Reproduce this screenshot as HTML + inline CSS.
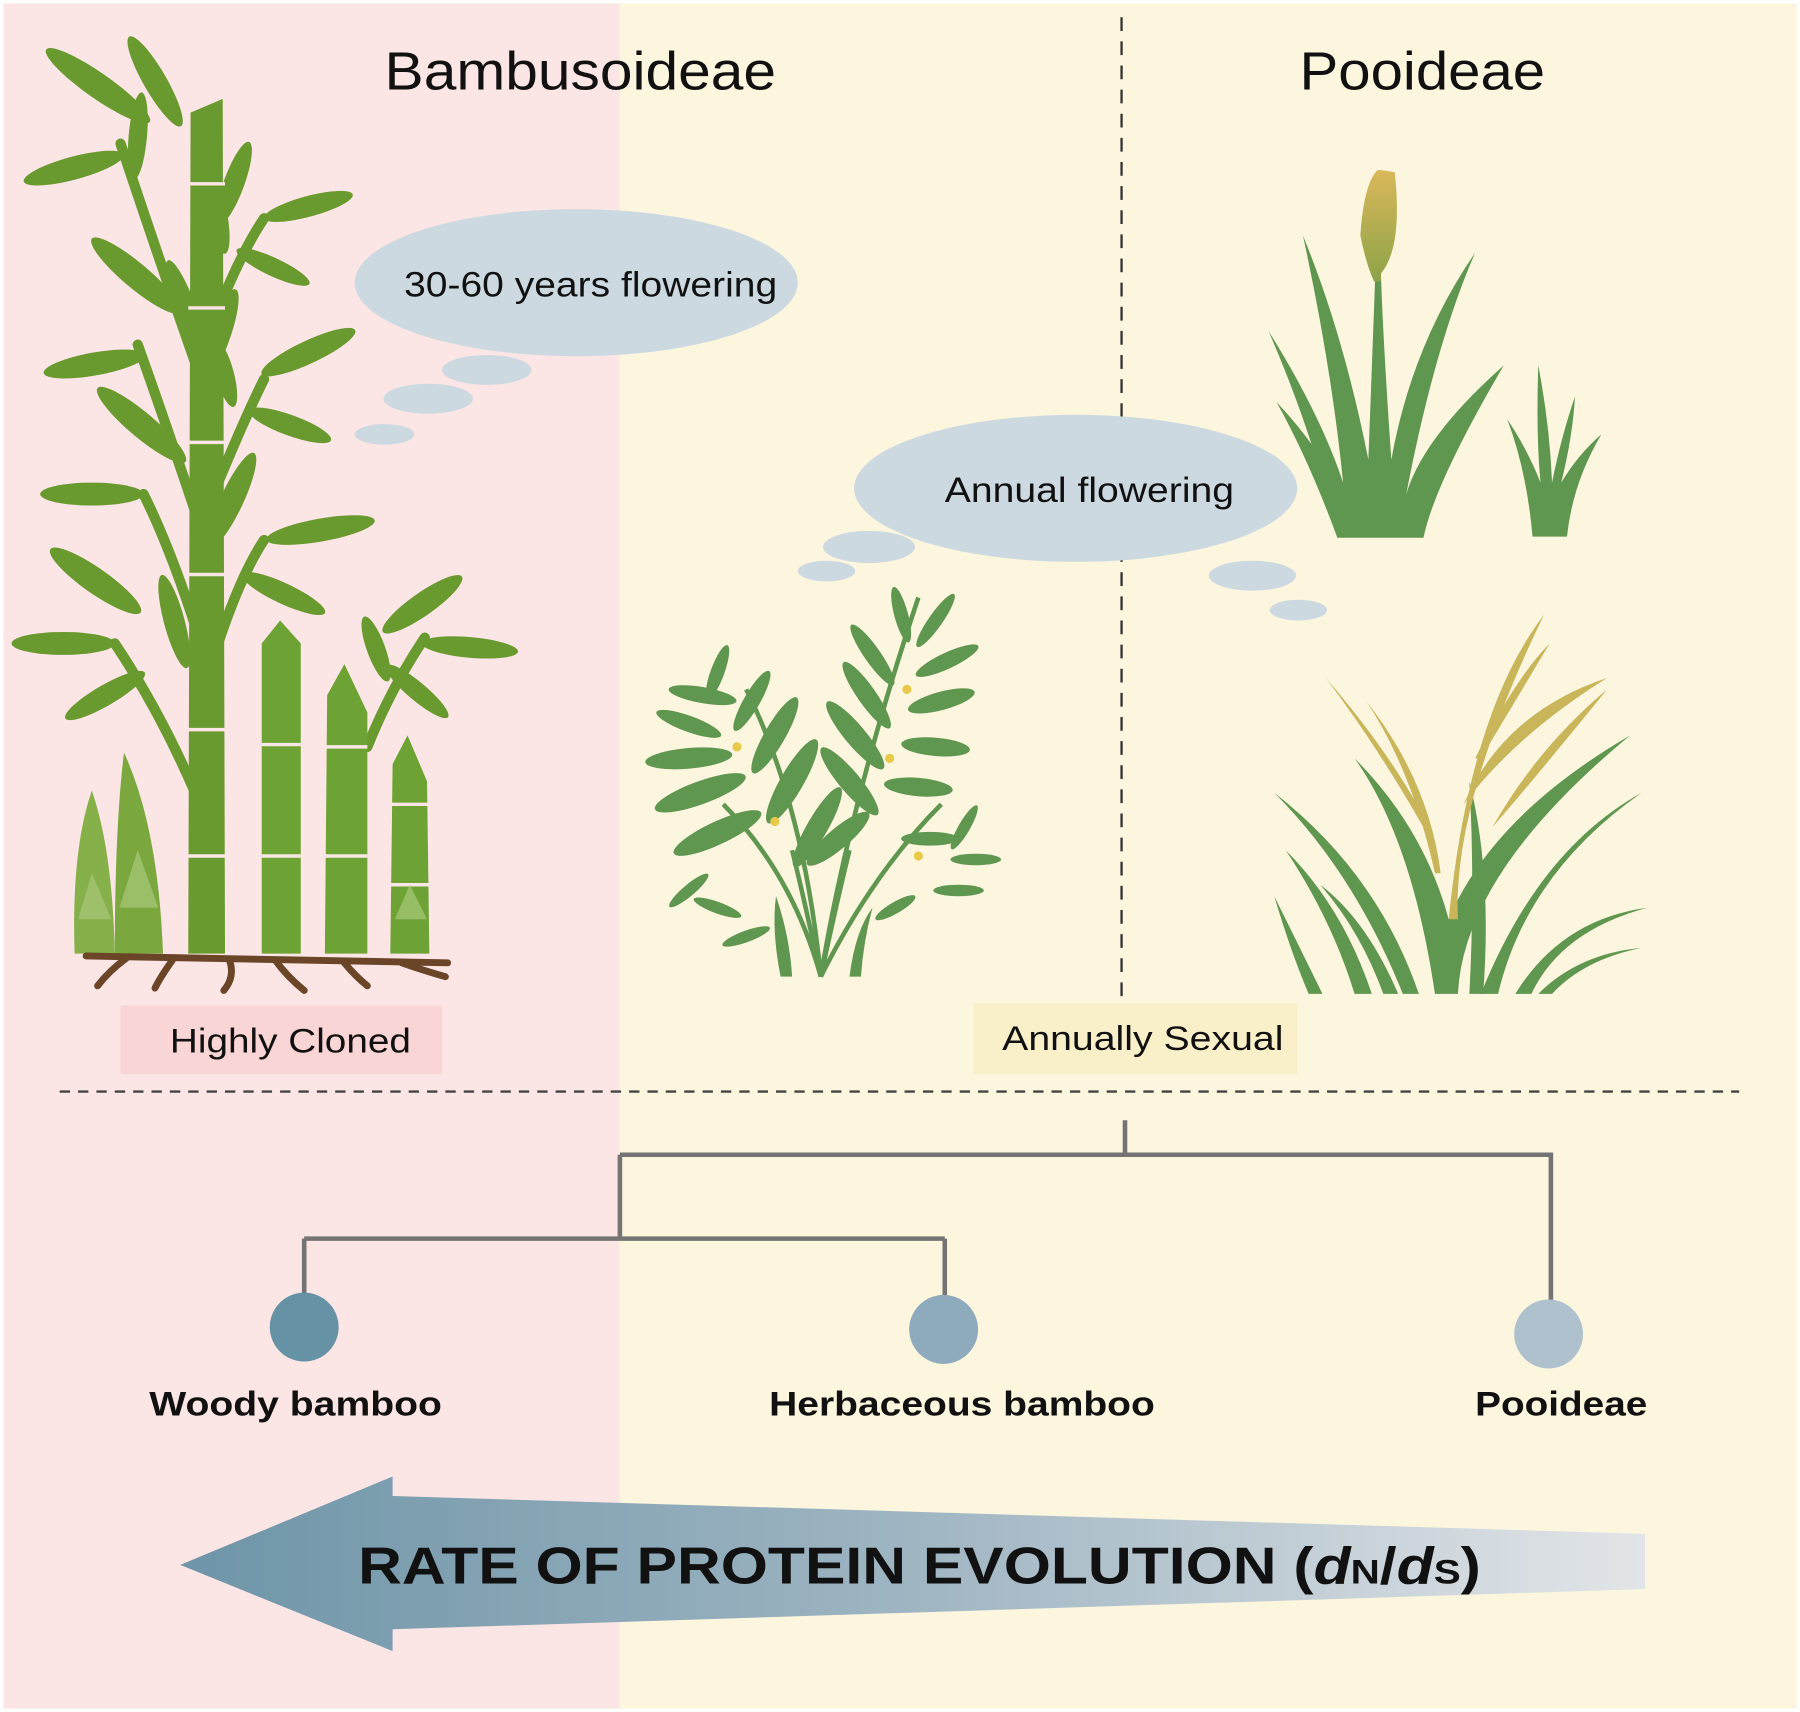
<!DOCTYPE html>
<html><head><meta charset="utf-8"><style>
html,body{margin:0;padding:0;background:#fff;}
svg{display:block;}
text{font-family:"Liberation Sans",Arial,sans-serif;}
</style></head><body>
<svg width="1800" height="1712" viewBox="0 0 1568 1490" preserveAspectRatio="none" xmlns="http://www.w3.org/2000/svg">
<defs>
<linearGradient id="ag" x1="0" x2="1" y1="0" y2="0">
<stop offset="0" stop-color="#6e95a8"/><stop offset="0.5" stop-color="#9fb5c2"/><stop offset="1" stop-color="#e2e5e8"/></linearGradient>
<linearGradient id="gold" x1="0" x2="0" y1="0" y2="1"><stop offset="0" stop-color="#d9b85a"/><stop offset="1" stop-color="#8ea348"/></linearGradient>
</defs>
<rect x="0" y="0" width="1568" height="1490" fill="#fff"/>
<rect x="3" y="3" width="537" height="1484" fill="#fce6e5"/>
<rect x="540" y="3" width="1025" height="1484" fill="#fcf6df"/>
<line x1="977" y1="15" x2="977" y2="872" stroke="#333" stroke-width="2" stroke-dasharray="12,9"/>

<text x="335" y="78" font-size="47" textLength="341" lengthAdjust="spacingAndGlyphs" fill="#111">Bambusoideae</text>
<text x="1132" y="78" font-size="47" textLength="214" lengthAdjust="spacingAndGlyphs" fill="#111">Pooideae</text>

<g fill="#cdd9e0">
<ellipse cx="502" cy="246" rx="193" ry="64"/>
<ellipse cx="424" cy="322" rx="39" ry="13"/>
<ellipse cx="373" cy="347" rx="39" ry="13"/>
<ellipse cx="335" cy="378" rx="26" ry="9"/>
<ellipse cx="937" cy="425" rx="193" ry="64"/>
<ellipse cx="757" cy="476" rx="40" ry="14"/>
<ellipse cx="720" cy="497" rx="25" ry="9"/>
<ellipse cx="1091" cy="501" rx="38" ry="13"/>
<ellipse cx="1131" cy="531" rx="25" ry="9"/>
</g>
<text x="352" y="258" font-size="31" textLength="325" lengthAdjust="spacingAndGlyphs" fill="#111">30-60 years flowering</text>
<text x="823" y="437" font-size="31" textLength="252" lengthAdjust="spacingAndGlyphs" fill="#111">Annual flowering</text>

<g fill="#699a30" stroke="none">
<g stroke="#699a30" stroke-width="9" fill="none" stroke-linecap="round">
<path d="M175 330 Q140 230 105 125"/>
<path d="M190 270 Q210 220 230 190"/>
<path d="M175 460 Q145 370 120 300"/>
<path d="M190 420 Q215 360 230 330"/>
<path d="M175 560 Q150 480 125 430"/>
<path d="M190 560 Q210 500 230 470"/>
<path d="M170 690 Q140 620 100 560"/>
<path d="M320 650 Q340 600 370 555"/>
</g>
<g>
<ellipse cx="60" cy="95" rx="55" ry="11" transform="rotate(35 105 125)" />
<ellipse cx="75" cy="65" rx="45" ry="10" transform="rotate(60 100 120)"/>
<ellipse cx="60" cy="135" rx="45" ry="10" transform="rotate(-15 105 125)"/>
<ellipse cx="140" cy="100" rx="38" ry="8" transform="rotate(-85 140 120)"/>
<ellipse cx="250" cy="155" rx="38" ry="9" transform="rotate(-70 230 190)"/>
<ellipse cx="270" cy="190" rx="40" ry="9" transform="rotate(-15 230 190)"/>
<ellipse cx="255" cy="225" rx="35" ry="8" transform="rotate(25 230 190)"/>
<ellipse cx="215" cy="160" rx="32" ry="8" transform="rotate(-100 215 185)"/>
<ellipse cx="80" cy="255" rx="50" ry="11" transform="rotate(40 120 300)"/>
<ellipse cx="80" cy="310" rx="45" ry="10" transform="rotate(-10 120 300)"/>
<ellipse cx="105" cy="250" rx="45" ry="9" transform="rotate(70 120 300)"/>
<ellipse cx="250" cy="280" rx="45" ry="10" transform="rotate(-70 230 330)"/>
<ellipse cx="275" cy="325" rx="45" ry="10" transform="rotate(-25 230 330)"/>
<ellipse cx="265" cy="360" rx="38" ry="9" transform="rotate(20 230 330)"/>
<ellipse cx="215" cy="300" rx="30" ry="8" transform="rotate(-105 215 320)"/>
<ellipse cx="85" cy="385" rx="50" ry="11" transform="rotate(40 125 430)"/>
<ellipse cx="80" cy="430" rx="45" ry="10" transform="rotate(0 125 430)"/>
<ellipse cx="125" cy="375" rx="45" ry="9" transform="rotate(80 125 430)"/>
<ellipse cx="250" cy="430" rx="45" ry="10" transform="rotate(-65 230 470)"/>
<ellipse cx="280" cy="470" rx="48" ry="10" transform="rotate(-10 230 470)"/>
<ellipse cx="265" cy="505" rx="40" ry="9" transform="rotate(25 230 470)"/>
<ellipse cx="55" cy="525" rx="48" ry="11" transform="rotate(35 100 560)"/>
<ellipse cx="55" cy="560" rx="45" ry="10" transform="rotate(0 100 560)"/>
<ellipse cx="95" cy="505" rx="42" ry="9" transform="rotate(75 100 560)"/>
<ellipse cx="70" cy="595" rx="40" ry="9" transform="rotate(-30 100 560)"/>
<ellipse cx="385" cy="530" rx="42" ry="10" transform="rotate(-35 370 555)"/>
<ellipse cx="335" cy="540" rx="30" ry="8" transform="rotate(-110 340 555)"/>
<ellipse cx="410" cy="560" rx="42" ry="9" transform="rotate(5 370 555)"/>
<ellipse cx="395" cy="595" rx="35" ry="8" transform="rotate(40 370 555)"/>
</g>
<path d="M166 98 L194 86 L196 830 L164 830 Z"/>
<path d="M228 560 L244 540 L262 560 L262 830 L228 830 Z" fill="#6da335"/>
<path d="M285 605 L300 578 L320 620 L320 830 L283 830 Z" fill="#6da335"/>
<path d="M342 665 L355 640 L372 680 L374 830 L340 830 Z" fill="#6da335"/>
<path d="M65 830 Q62 740 80 688 Q98 740 100 830 Z" fill="#85b04a"/>
<path d="M100 830 Q100 720 108 655 Q138 720 142 830 Z" fill="#7aa83e"/>
</g>
<g stroke="#fce6e5" stroke-width="3">
<line x1="164" y1="160" x2="196" y2="160"/><line x1="164" y1="268" x2="196" y2="268"/>
<line x1="164" y1="385" x2="196" y2="385"/><line x1="164" y1="500" x2="196" y2="500"/>
<line x1="164" y1="635" x2="196" y2="635"/><line x1="164" y1="745" x2="196" y2="745"/>
<line x1="228" y1="648" x2="262" y2="648"/><line x1="228" y1="745" x2="262" y2="745"/>
<line x1="283" y1="650" x2="320" y2="650"/><line x1="283" y1="745" x2="320" y2="745"/>
<line x1="340" y1="700" x2="374" y2="700"/><line x1="340" y1="770" x2="374" y2="770"/>
</g>
<g fill="#a9c77a" opacity="0.7">
<path d="M68 800 L80 760 L97 800 Z"/><path d="M104 790 L120 740 L138 790 Z"/>
<path d="M344 800 L357 770 L372 800 Z"/>
</g>
<g stroke="#6b4528" stroke-width="6" fill="none" stroke-linecap="round">
<path d="M75 832 L390 838"/>
<path d="M110 834 Q95 845 85 858"/><path d="M150 836 Q140 850 135 860"/>
<path d="M200 836 Q205 850 195 862"/><path d="M240 836 Q250 850 265 862"/>
<path d="M300 838 Q310 850 320 858"/><path d="M350 838 Q370 845 388 850"/>
</g>

<g fill="#5f9650">
<g stroke="#5f9650" stroke-width="4" fill="none">
<path d="M715 850 Q700 700 650 600"/><path d="M715 850 Q740 700 800 520"/>
<path d="M715 850 Q690 760 630 700"/><path d="M715 850 Q760 760 820 700"/>
<path d="M715 850 Q700 780 690 740"/><path d="M715 850 Q730 780 740 740"/>
</g>
<ellipse cx="612" cy="605" rx="30" ry="7" transform="rotate(10 612 605)"/>
<ellipse cx="625" cy="585" rx="25" ry="6" transform="rotate(-70 625 585)"/>
<ellipse cx="600" cy="630" rx="30" ry="7" transform="rotate(20 600 630)"/>
<ellipse cx="655" cy="610" rx="30" ry="7" transform="rotate(-60 655 610)"/>
<ellipse cx="600" cy="660" rx="38" ry="9" transform="rotate(-5 600 660)"/>
<ellipse cx="675" cy="640" rx="38" ry="9" transform="rotate(-60 675 640)"/>
<ellipse cx="610" cy="690" rx="42" ry="10" transform="rotate(-20 610 690)"/>
<ellipse cx="690" cy="680" rx="42" ry="10" transform="rotate(-60 690 680)"/>
<ellipse cx="625" cy="725" rx="42" ry="10" transform="rotate(-25 625 725)"/>
<ellipse cx="712" cy="720" rx="40" ry="9" transform="rotate(-60 712 720)"/>
<ellipse cx="785" cy="535" rx="25" ry="6" transform="rotate(75 785 535)"/>
<ellipse cx="815" cy="540" rx="28" ry="6" transform="rotate(-55 815 540)"/>
<ellipse cx="760" cy="570" rx="32" ry="7" transform="rotate(55 760 570)"/>
<ellipse cx="825" cy="575" rx="30" ry="7" transform="rotate(-25 825 575)"/>
<ellipse cx="755" cy="605" rx="35" ry="8" transform="rotate(55 755 605)"/>
<ellipse cx="820" cy="610" rx="30" ry="8" transform="rotate(-15 820 610)"/>
<ellipse cx="745" cy="640" rx="38" ry="9" transform="rotate(50 745 640)"/>
<ellipse cx="815" cy="650" rx="30" ry="8" transform="rotate(5 815 650)"/>
<ellipse cx="740" cy="680" rx="38" ry="9" transform="rotate(50 740 680)"/>
<ellipse cx="800" cy="685" rx="30" ry="8" transform="rotate(5 800 685)"/>
<ellipse cx="730" cy="730" rx="35" ry="9" transform="rotate(-40 730 730)"/>
<ellipse cx="810" cy="730" rx="25" ry="6" transform="rotate(0 810 730)"/>
<ellipse cx="840" cy="720" rx="22" ry="5" transform="rotate(-60 840 720)"/>
<ellipse cx="850" cy="748" rx="22" ry="5" transform="rotate(0 850 748)"/>
<ellipse cx="835" cy="775" rx="22" ry="5" transform="rotate(0 835 775)"/>
<ellipse cx="780" cy="790" rx="20" ry="5" transform="rotate(-30 780 790)"/>
<ellipse cx="600" cy="775" rx="22" ry="5" transform="rotate(-40 600 775)"/>
<ellipse cx="625" cy="790" rx="22" ry="5" transform="rotate(20 625 790)"/>
<ellipse cx="650" cy="815" rx="22" ry="5" transform="rotate(-20 650 815)"/>
<path d="M680 850 Q672 810 676 780 Q688 815 690 850Z"/>
<path d="M740 850 Q745 810 760 790 Q752 820 750 850Z"/>
</g>
<g fill="#e8c94a"><circle cx="642" cy="650" r="4"/><circle cx="675" cy="715" r="4"/><circle cx="790" cy="600" r="4"/><circle cx="775" cy="660" r="4"/><circle cx="800" cy="745" r="4"/></g>

<g fill="#5f9650">
<path d="M1165 468 L1240 468 Q1250 420 1310 318 Q1240 380 1225 430 Q1250 300 1285 220 Q1230 300 1212 400 Q1205 300 1203 240 L1198 240 Q1195 320 1192 400 Q1170 290 1135 205 Q1160 320 1170 420 Q1150 360 1105 288 Q1145 380 1165 468Z"/>
<path d="M1165 468 Q1140 400 1112 350 Q1150 390 1175 440Z"/>
<path d="M1335 467 L1365 467 Q1370 420 1395 378 Q1375 395 1360 420 Q1370 380 1372 345 Q1360 380 1352 420 Q1350 370 1340 318 Q1338 380 1342 420 Q1330 390 1313 365 Q1330 410 1335 467Z"/>
</g>
<g fill="url(#gold)">
<path d="M1197 245 L1203 245 L1203 238 Q1222 215 1215 150 Q1205 148 1200 148 Q1188 160 1185 205 Q1190 230 1197 245Z"/>
</g>

<g fill="#5f9650">
<path d="M1250 865 L1270 865 Q1275 760 1420 640 Q1300 710 1262 800 Q1240 720 1180 660 Q1230 730 1250 865Z"/>
<path d="M1222 865 L1236 865 Q1200 760 1110 690 Q1180 760 1222 865Z"/>
<path d="M1180 865 L1195 865 Q1170 790 1120 740 Q1160 800 1180 865Z"/>
<path d="M1140 865 L1152 865 Q1130 820 1110 780 Q1125 830 1140 865Z"/>
<path d="M1290 865 L1305 865 Q1330 760 1430 690 Q1340 740 1290 865Z"/>
<path d="M1320 865 L1334 865 Q1360 810 1435 790 Q1360 800 1320 865Z"/>
<path d="M1340 865 L1352 865 Q1380 835 1430 825 Q1375 830 1340 865Z"/>
<path d="M1280 865 L1292 865 Q1300 760 1280 680 Q1285 770 1280 865Z"/>
<path d="M1205 865 L1218 865 Q1190 800 1150 770 Q1185 810 1205 865Z"/>
</g>
<g fill="#c9b55a">
<path d="M1262 800 L1270 800 Q1265 700 1345 535 Q1280 620 1262 800Z"/>
<path d="M1275 700 Q1310 620 1400 590 Q1320 640 1275 700Z"/>
<path d="M1300 720 Q1340 650 1400 600 Q1335 680 1300 720Z"/>
<path d="M1240 720 Q1200 650 1155 590 Q1215 660 1245 720Z"/>
<path d="M1250 760 Q1230 670 1190 610 Q1245 680 1255 760Z"/>
<path d="M1285 660 Q1320 590 1350 560 Q1320 610 1290 660Z"/>
</g>

<rect x="105" y="875" width="280" height="60" fill="#f9d6d5"/>
<text x="148" y="916" font-size="30" textLength="210" lengthAdjust="spacingAndGlyphs" fill="#111">Highly Cloned</text>
<rect x="848" y="873" width="282" height="62" fill="#f9efc9"/>
<text x="873" y="914" font-size="30" textLength="245" lengthAdjust="spacingAndGlyphs" fill="#111">Annually Sexual</text>

<line x1="52" y1="950" x2="1515" y2="950" stroke="#444" stroke-width="2" stroke-dasharray="9,7"/>

<g stroke="#747474" stroke-width="4" fill="none">
<path d="M980 975 V1005 M540 1005 H1351 V1135 M540 1005 V1078 M265 1078 H823 M265 1078 V1130 M823 1078 V1130"/>
</g>
<circle cx="265" cy="1155" r="30" fill="#6692a6"/>
<circle cx="822" cy="1157" r="30" fill="#8eabbe"/>
<circle cx="1349" cy="1161" r="30" fill="#b0c1ce"/>
<g font-size="30" font-weight="bold" fill="#111">
<text x="130" y="1232" textLength="255" lengthAdjust="spacingAndGlyphs">Woody bamboo</text>
<text x="670" y="1232" textLength="336" lengthAdjust="spacingAndGlyphs">Herbaceous bamboo</text>
<text x="1285" y="1232" textLength="150" lengthAdjust="spacingAndGlyphs">Pooideae</text>
</g>

<path d="M157 1362 L342 1285 L342 1302 L1433 1335 L1433 1383 L342 1418 L342 1437 Z" fill="url(#ag)"/>
<text x="312" y="1378" font-size="45" font-weight="bold" fill="#111" textLength="978" lengthAdjust="spacingAndGlyphs">RATE OF PROTEIN EVOLUTION (<tspan font-style="italic">d</tspan><tspan font-size="30">N</tspan>/<tspan font-style="italic">d</tspan><tspan font-size="30">S</tspan>)</text>
</svg>
</body></html>
